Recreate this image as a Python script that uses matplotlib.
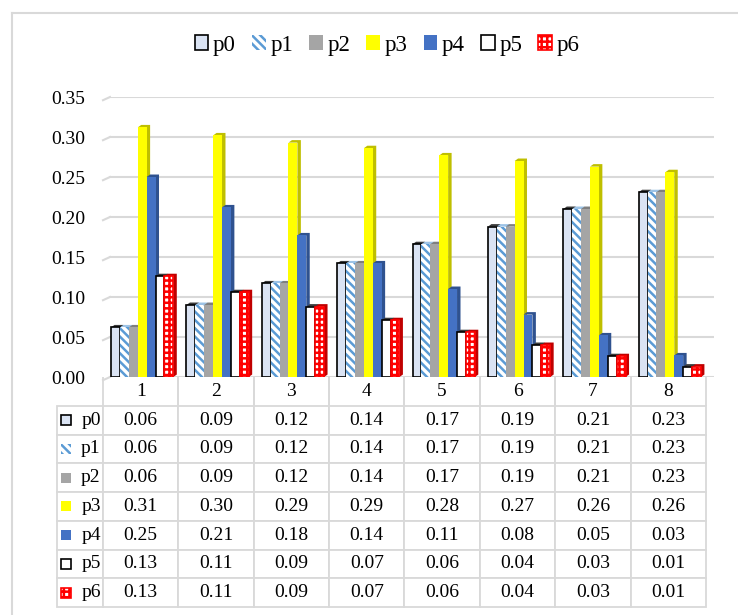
import numpy as np
import matplotlib.pyplot as plt
from matplotlib.patches import Polygon, Rectangle
from matplotlib.lines import Line2D

plt.rcParams['font.family'] = ['Liberation Serif', 'DejaVu Serif']
plt.rcParams['hatch.linewidth'] = 1.8

# data
categories = ['1', '2', '3', '4', '5', '6', '7', '8']
names = ['p0', 'p1', 'p2', 'p3', 'p4', 'p5', 'p6']
p0 = [0.062, 0.090, 0.117, 0.142, 0.166, 0.188, 0.210, 0.231]
p1 = [0.062, 0.090, 0.117, 0.142, 0.166, 0.188, 0.210, 0.231]
p2 = [0.062, 0.090, 0.117, 0.142, 0.166, 0.188, 0.210, 0.231]
p3 = [0.312, 0.302, 0.293, 0.286, 0.277, 0.270, 0.263, 0.256]
p4 = [0.250, 0.212, 0.177, 0.142, 0.110, 0.078, 0.052, 0.027]
p5 = [0.126, 0.106, 0.088, 0.071, 0.056, 0.040, 0.026, 0.013]
p6 = [0.126, 0.106, 0.088, 0.071, 0.056, 0.040, 0.026, 0.013]
series = [p0, p1, p2, p3, p4, p5, p6]

styles = [
    dict(facecolor='#dae3f3', edgecolor='black', linewidth=1.2),
    dict(facecolor='white', edgecolor='#5b9bd5', hatch='\\\\\\\\', linewidth=0),
    dict(facecolor='#a5a5a5', edgecolor='none'),
    dict(facecolor='#ffff00', edgecolor='none'),
    dict(facecolor='#4472c4', edgecolor='none'),
    dict(facecolor='white', edgecolor='black', linewidth=1.2),
    dict(facecolor='white', edgecolor='#ff0000', hatch='+++', linewidth=1.2),
]
side_colors = ['#3a3a3a', '#9dc3e6', '#7f7f7f', '#bfbf00', '#2f528f', '#3a3a3a', '#c00000']
grid_c = '#d9d9d9'

W, H = 738, 615
fig = plt.figure(figsize=(W / 100, H / 100), dpi=100)
ax = fig.add_axes([103 / W, 1 - 377 / H, 611 / W, 280 / H])

x = np.arange(len(categories))
w = 0.118
dx, dy = 0.046, 0.0031
for j, vals in enumerate(series):
    xs = x + 0.02 + (j - 3) * w
    for xc, v in zip(xs, vals):
        x0, x1 = xc - w / 2, xc + w / 2
        ax.add_patch(Polygon([(x0, v), (x0 + dx, v + dy), (x1 + dx, v + dy),
                              (x1 + dx, dy), (x1, 0), (x1, v)],
                             closed=True, facecolor=side_colors[j], edgecolor='none',
                             zorder=3 + 2 * j))
    ax.bar(xs, vals, width=w, zorder=4 + 2 * j, **styles[j])

ax.set_xlim(-0.5, 7.5 + 8 / 75.4)
ax.set_ylim(0, 0.35)
yt = np.arange(0, 0.351, 0.05)
ax.set_yticks(yt)
ax.set_yticklabels(['%.2f' % t for t in yt], fontsize=14)
ax.set_xticks([])
ax.tick_params(axis='y', length=0, pad=13)
for s in ax.spines.values():
    s.set_visible(False)
for t in yt:
    ax.plot([-0.5 + 7 / 75.4, 7.5 + 8 / 75.4], [t, t], color=grid_c, lw=1.5, zorder=1)
    ax.plot([-0.5, -0.5 + 7 / 75.4], [t - 0.004, t], color=grid_c, lw=1.5, zorder=1,
            clip_on=False)

# data table
cell_text = [[n] + ['%.2f' % v for v in vals] for n, vals in zip(names, series)]
tab = ax.table(cellText=cell_text, colLabels=[''] + categories, cellLoc='center',
               colWidths=[46] + [75.4] * 8,
               bbox=[(57 - 103) / 611, -230 / 280, 649 / 611, 230 / 280])
tab.auto_set_font_size(False)
tab.set_fontsize(14)
for (r, c), cell in tab.get_celld().items():
    cell.set_edgecolor(grid_c)
    cell.set_linewidth(1.3)
    if r == 0:
        cell.visible_edges = '' if c == 0 else 'LR'
    if c == 0 and r > 0:
        cell.get_text().set_horizontalalignment('right')
        cell.PAD = 0.05

for r in range(len(names)):
    yc = -28.75 * (r + 1.5) / 280
    ax.add_patch(Rectangle(((61 - 103) / 611, yc - 5 / 280), 10 / 611, 10 / 280,
                           transform=ax.transAxes, clip_on=False, zorder=10, **styles[r]))

# legend
handles = [Rectangle((0, 0), 1, 1, **st) for st in styles]
fig.legend(handles, names, loc='center', bbox_to_anchor=(387 / W, 1 - 45 / H), ncol=7,
           frameon=False, fontsize=16.5, handlelength=0.6, handleheight=0.6,
           handletextpad=0.2, columnspacing=0.7)

# chart area border
fig.add_artist(Line2D([12 / W, 12 / W], [0, 1 - 13 / H], color=grid_c, lw=1.5))
fig.add_artist(Line2D([12 / W, 1], [1 - 13 / H, 1 - 13 / H], color=grid_c, lw=1.5))

fig.savefig('out.png', dpi=100)
